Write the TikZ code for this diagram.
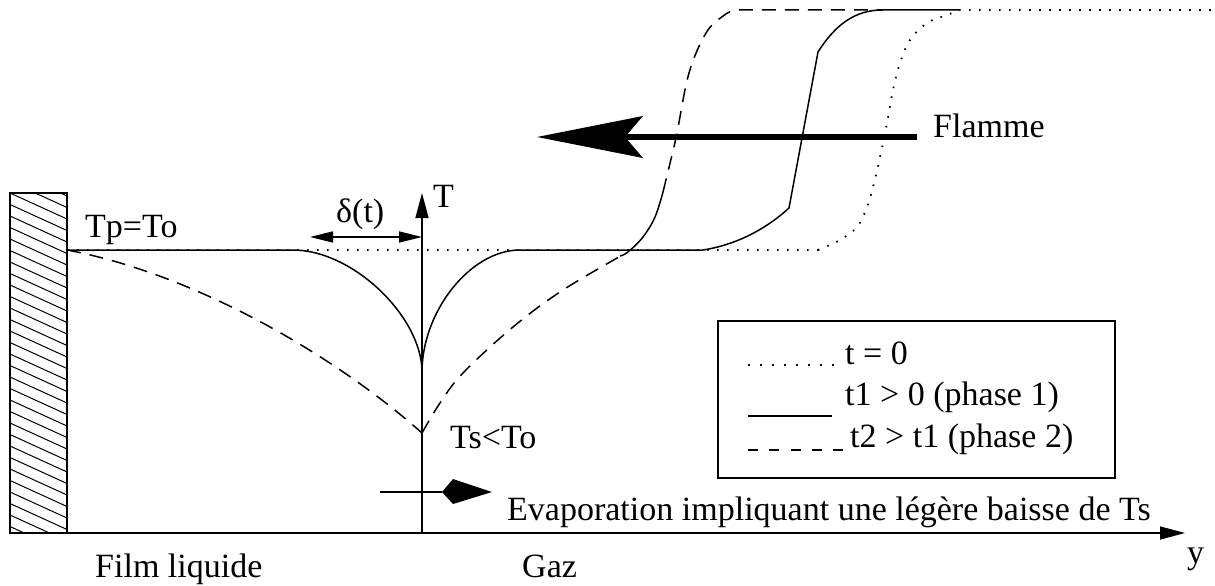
\documentclass[tikz,border=0pt]{standalone}
\usepackage{fontspec}
\setmainfont{Liberation Serif}
\usetikzlibrary{arrows.meta}
\begin{document}
\begin{tikzpicture}[x=1pt,y=-1pt,
  txt/.style={inner sep=0pt,font=\fontsize{34}{40}\selectfont},
  curve/.style={line width=1.5pt},
  dashcurve/.style={line width=1.5pt,dash pattern=on 14pt off 9pt},
  dotcurve/.style={line width=1.8pt,dash pattern=on 1.6pt off 8.4pt},
  bigtip/.style={-{Triangle[length=25pt,width=13pt]}},
  axisline/.style={line width=1.5pt}]
\useasboundingbox (0,0) rectangle (1215,586);
% wall
\begin{scope}
\clip (10,193) rectangle (67,533);
\foreach \yy in {170,181.5,...,545} {\draw[line width=1pt] (10,\yy) -- (67,\yy+26);}
\end{scope}
\draw[line width=1.5pt] (10,193) rectangle (67,533);
% axes
\coordinate (O) at (422,533);
\coordinate (Ttip) at (422,193);
\coordinate (Xstart) at (10,533);
\coordinate (Xtip) at (1185,533);
\draw[axisline] (Xstart) -- (O);
\draw[axisline,bigtip] (O) -- (Xtip);
\draw[axisline,bigtip] (O) -- (Ttip);
% delta arrow
\coordinate (dL) at (310,237);
\coordinate (dR) at (422,237);
\draw[axisline,{Triangle[length=23pt,width=11pt]}-{Triangle[length=23pt,width=11pt]}] (dL) -- (dR);
% t = 0 dotted
\draw[dotcurve] (67,250) -- (818,250)
  plot[smooth,tension=0.6] coordinates {(818,250) (840,240) (857,227) (867,207) (873,187) (880,157) (887,123) (893,90) (900,63) (910,40) (927,23) (947,15) (960,10)}
  -- (1215,10);
% t1 solid
\draw[curve] (67,250) -- (293,250) .. controls (353,250) and (422,317) .. (422,372);
\draw[curve] (422,372) .. controls (422,312) and (470,250) .. (520,250) -- (703,250)
  .. controls (735,245) and (765,230) .. (789,208) -- (818,52)
  .. controls (835,25) and (855,10) .. (882,10) -- (960,10);
% t2 dashed
\draw[dashcurve] (67,250) .. controls (200,275) and (340,360) .. (422,433);
\draw[dashcurve] plot[smooth,tension=0.6] coordinates {(422,433) (440,403) (463,373) (513,327) (563,290) (626,253)};
\draw[curve] plot[smooth,tension=0.6] coordinates {(620,256) (628,252) (643,237) (655,217) (663,192)};
\draw[dashcurve] plot[smooth,tension=0.6] coordinates {(663,192) (672,155) (677,133) (689,73) (706,33) (723,16) (734,10)} -- (882,10);
% flame arrow
\coordinate (Fs) at (917,137);
\coordinate (Fe) at (625,137);
\draw[line width=6pt] (Fs) -- (Fe);
\fill (537,137) -- (643,116) -- (625,137) -- (643,158) -- cycle;
% evaporation arrow
\coordinate (Es) at (380,492);
\coordinate (Eb) at (442,492);
\draw[line width=2.6pt] (Es) -- (Eb);
\fill (Eb) -- (453,479) -- (492,492) -- (453,504) -- cycle;
% legend
\draw[line width=1.5pt] (718,321) rectangle (1115,478);
\draw[line width=1.8pt,dash pattern=on 1.6pt off 10.4pt] (748,365) -- (834,365);
\draw[curve] (748,416) -- (832,416);
\draw[line width=1.5pt,dash pattern=on 10pt off 11.25pt] (748,450) -- (843,450);
\node[txt,anchor=base west] (l0) at (845,364) {t = 0};
\node[txt,anchor=base west] (l1) at (845,405) {t1 > 0 (phase 1)};
\node[txt,anchor=base west] (l2) at (850,447) {t2 > t1 (phase 2)};
% labels
\node[txt,anchor=base west] (tp) at (85,237) {Tp=To};
\node[txt,anchor=base west] (delta) at (336,222) {δ(t)};
\node[txt,anchor=base west] (T) at (433,207) {T};
\node[txt,anchor=base west] (ts) at (450,448) {Ts<To};
\node[txt,anchor=base west] (flamme) at (933,137) {Flamme};
\node[txt,anchor=base west] (evap) at (507,520) {Evaporation impliquant une légère baisse de Ts};
\node[txt,anchor=base west] (y) at (1187,563) {y};
\node[txt,anchor=base west] (film) at (95,577) {Film liquide};
\node[txt,anchor=base west] (gaz) at (522,577) {Gaz};
\end{tikzpicture}
\end{document}
